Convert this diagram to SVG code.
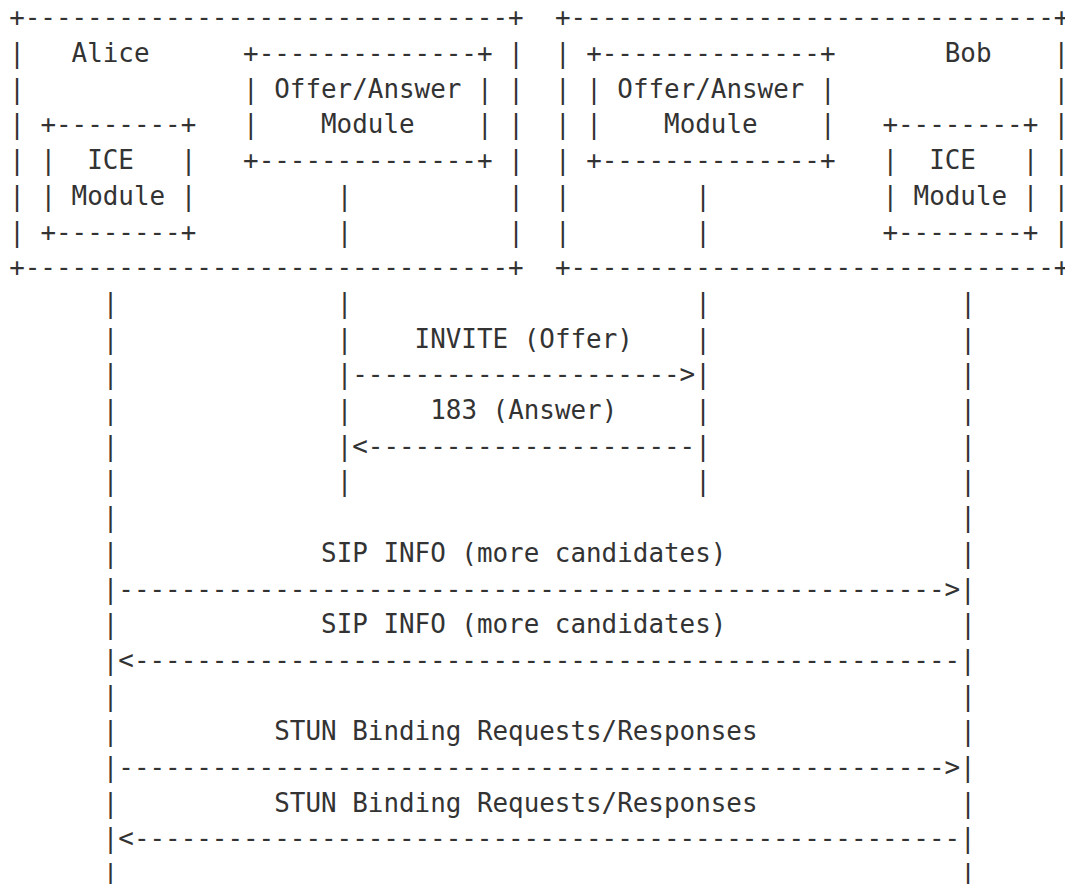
<svg xmlns="http://www.w3.org/2000/svg" width="1065" height="884" viewBox="0 0 1065 884" xml:space="preserve">
<style>
text{font-family:"DejaVu Sans Mono","Liberation Mono",monospace;font-size:25.9px;fill:#333;white-space:pre;}
</style>
<rect width="1065" height="884" fill="#fff"/>
<g id="alice">
<g id="alice-frame">
<text x="9.2" y="26.3">+-------------------------------+</text>
<text x="9.2" y="62">|</text><text x="508.18" y="62">|</text>
<text x="9.2" y="97.7">|</text><text x="508.18" y="97.7">|</text>
<text x="9.2" y="133.4">|</text><text x="508.18" y="133.4">|</text>
<text x="9.2" y="169.1">|</text><text x="508.18" y="169.1">|</text>
<text x="9.2" y="204.8">|</text><text x="508.18" y="204.8">|</text>
<text x="9.2" y="240.5">|</text><text x="508.18" y="240.5">|</text>
<text x="9.2" y="276.2">+-------------------------------+</text>
<text x="71.57" y="62">Alice</text>
</g>
<g id="alice-oa">
<text x="243.1" y="62">+--------------+</text>
<text x="243.1" y="97.7">| Offer/Answer |</text>
<text x="243.1" y="133.4">|    Module    |</text>
<text x="243.1" y="169.1">+--------------+</text>
</g>
<g id="alice-ice">
<text x="40.39" y="133.4">+--------+</text>
<text x="40.39" y="169.1">|  ICE   |</text>
<text x="40.39" y="204.8">| Module |</text>
<text x="40.39" y="240.5">+--------+</text>
</g>
</g>
<g id="bob">
<g id="bob-frame">
<text x="554.96" y="26.3">+-------------------------------+</text>
<text x="554.96" y="62">|</text><text x="1053.6" y="62">|</text>
<text x="554.96" y="97.7">|</text><text x="1053.6" y="97.7">|</text>
<text x="554.96" y="133.4">|</text><text x="1053.6" y="133.4">|</text>
<text x="554.96" y="169.1">|</text><text x="1053.6" y="169.1">|</text>
<text x="554.96" y="204.8">|</text><text x="1053.6" y="204.8">|</text>
<text x="554.96" y="240.5">|</text><text x="1053.6" y="240.5">|</text>
<text x="554.96" y="276.2">+-------------------------------+</text>
<text x="944.78" y="62">Bob</text>
</g>
<g id="bob-oa">
<text x="586.14" y="62">+--------------+</text>
<text x="586.14" y="97.7">| Offer/Answer |</text>
<text x="586.14" y="133.4">|    Module    |</text>
<text x="586.14" y="169.1">+--------------+</text>
</g>
<g id="bob-ice">
<text x="882.41" y="133.4">+--------+</text>
<text x="882.41" y="169.1">|  ICE   |</text>
<text x="882.41" y="204.8">| Module |</text>
<text x="882.41" y="240.5">+--------+</text>
</g>
</g>
<g id="connectors">
<text x="336.65" y="204.8">|</text><text x="336.65" y="240.5">|</text>
<text x="695.29" y="204.8">|</text><text x="695.29" y="240.5">|</text>
<text x="102.76" y="311.9">|</text><text x="336.65" y="311.9">|</text><text x="695.29" y="311.9">|</text><text x="960.37" y="311.9">|</text>
<text x="102.76" y="347.6">|</text><text x="336.65" y="347.6">|</text><text x="695.29" y="347.6">|</text><text x="960.37" y="347.6">|</text>
<text x="102.76" y="383.3">|</text><text x="336.65" y="383.3">|--------------------->|</text><text x="960.37" y="383.3">|</text>
<text x="102.76" y="419">|</text><text x="336.65" y="419">|</text><text x="695.29" y="419">|</text><text x="960.37" y="419">|</text>
<text x="102.76" y="454.7">|</text><text x="336.65" y="454.7">|&lt;---------------------|</text><text x="960.37" y="454.7">|</text>
<text x="102.76" y="490.4">|</text><text x="336.65" y="490.4">|</text><text x="695.29" y="490.4">|</text><text x="960.37" y="490.4">|</text>
<text x="102.76" y="526.1">|</text><text x="960.37" y="526.1">|</text>
<text x="102.76" y="561.8">|</text><text x="960.37" y="561.8">|</text>
<text x="102.76" y="597.5">|----------------------------------------------------->|</text>
<text x="102.76" y="633.2">|</text><text x="960.37" y="633.2">|</text>
<text x="102.76" y="668.9">|&lt;-----------------------------------------------------|</text>
<text x="102.76" y="704.6">|</text><text x="960.37" y="704.6">|</text>
<text x="102.76" y="740.3">|</text><text x="960.37" y="740.3">|</text>
<text x="102.76" y="776">|----------------------------------------------------->|</text>
<text x="102.76" y="811.7">|</text><text x="960.37" y="811.7">|</text>
<text x="102.76" y="847.4">|&lt;-----------------------------------------------------|</text>
<text x="102.76" y="883.1">|</text><text x="960.37" y="883.1">|</text>
</g>
<g id="labels">
<text x="414.62" y="347.6">INVITE (Offer)</text>
<text x="430.21" y="419">183 (Answer)</text>
<text x="321.06" y="561.8">SIP INFO (more candidates)</text>
<text x="321.06" y="633.2">SIP INFO (more candidates)</text>
<text x="274.28" y="740.3">STUN Binding Requests/Responses</text>
<text x="274.28" y="811.7">STUN Binding Requests/Responses</text>
</g>
</svg>
